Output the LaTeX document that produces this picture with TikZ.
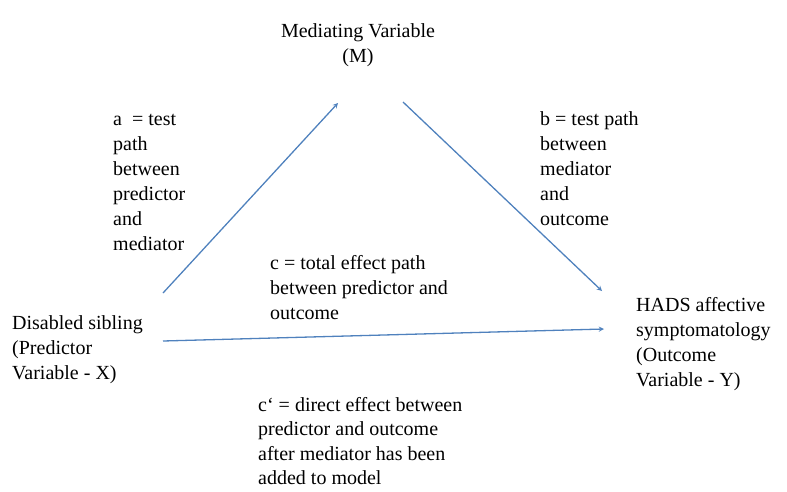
\documentclass[tikz,border=0pt]{standalone}
\usepackage{fontspec}
\setmainfont{Liberation Serif}
\begin{document}
\begin{tikzpicture}[>=stealth, x=1pt, y=-1pt, font=\fontsize{20}{25}\selectfont]
	\definecolor{pathblue}{RGB}{79, 129, 189}
	\tikzset{txt/.style={anchor=north west, align=left, inner sep=0pt}}
	\useasboundingbox (0,0) rectangle (787,491);

	% the three variables
	\node[anchor=north, align=center, inner sep=0pt] (M) at (358,23) {Mediating Variable\\(M)};
	\node[txt] (X) at (12,315) {Disabled sibling\\(Predictor\\Variable - X)};
	\node[txt] (Y) at (636,297) {HADS affective\\symptomatology\\(Outcome\\Variable - Y)};

	% path labels
	\node[txt] (labA) at (113,114) {a\ \ = test\\path\\between\\predictor\\and\\mediator};
	\node[txt] (labB) at (540,111) {b = test path\\between\\mediator\\and\\outcome};
	\node[txt] (labC) at (270,255) {c = total effect path\\between predictor and\\outcome};
	\node[txt, font=\fontsize{20}{24.5}\selectfont] (labCp) at (258,397) {c‘ = direct effect between\\predictor and outcome\\after mediator has been\\added to model};

	% arrow ends
	\coordinate (aFrom) at (163,293);
	\coordinate (aTo) at (338,103);
	\coordinate (bFrom) at (403,102);
	\coordinate (bTo) at (602,291);
	\coordinate (cFrom) at (163,341);
	\coordinate (cTo) at (604,329);

	% paths a, b and c
	\draw[->, line width=1.3pt, pathblue] (aFrom) -- (aTo);
	\draw[->, line width=1.3pt, pathblue] (bFrom) -- (bTo);
	\draw[->, line width=1.3pt, pathblue] (cFrom) -- (cTo);
\end{tikzpicture}
\end{document}
